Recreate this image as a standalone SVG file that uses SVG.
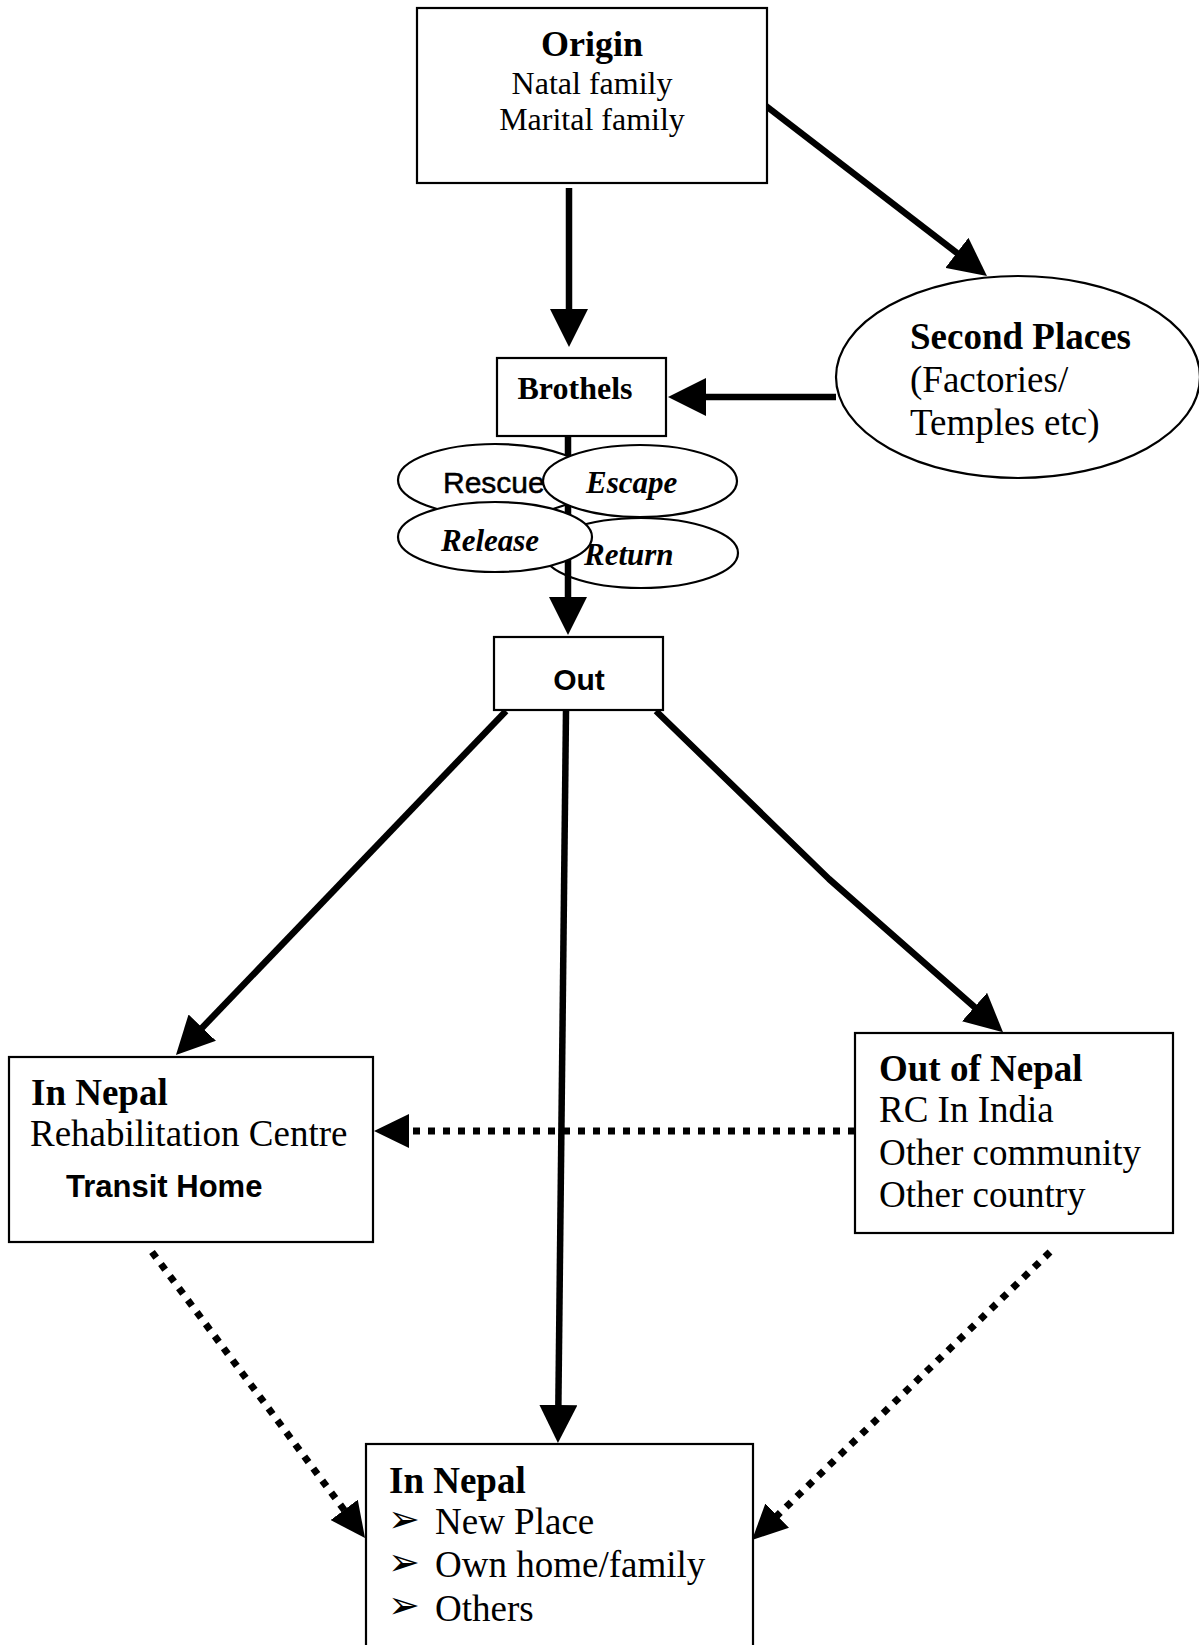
<svg xmlns="http://www.w3.org/2000/svg" width="1199" height="1645" viewBox="0 0 1199 1645">
<style>
.box{fill:#fff;stroke:#000;stroke-width:2.2}
.ell{fill:#fff;stroke:#000;stroke-width:2.2}
.serif{font-family:"Liberation Serif","Times New Roman",serif;fill:#000}
.sans{font-family:"Liberation Sans",Arial,sans-serif;fill:#000}
.b{font-weight:bold}
.bi{font-weight:bold;font-style:italic}
.big{font-size:37px}
.mid{font-size:32px}
.solid{fill:none;stroke:#000;stroke-width:6.5;stroke-linecap:butt;stroke-linejoin:round}
.dot{fill:none;stroke:#000;stroke-width:7;stroke-dasharray:7 8;stroke-linecap:butt}
.bul{font-family:"DejaVu Sans",sans-serif;font-size:38px;fill:#000}
</style>
<defs>
<marker id="ah" viewBox="0 0 38 38" refX="6" refY="19" markerWidth="38" markerHeight="38" markerUnits="userSpaceOnUse" orient="auto">
<path d="M0,0 L38,19 L0,38 Z" fill="#000"/>
</marker>
<marker id="ahd" viewBox="0 0 35 34" refX="5" refY="17" markerWidth="35" markerHeight="34" markerUnits="userSpaceOnUse" orient="auto">
<path d="M0,0 L35,17 L0,34 Z" fill="#000"/>
</marker>
</defs>
<rect width="1199" height="1645" fill="#fff"/>

<g id="node-return">
<ellipse class="ell" cx="641" cy="553" rx="97" ry="35"/>
<text class="serif bi" x="584" y="565" font-size="31">Return</text>
</g>

<g id="connectors">
<line class="solid" x1="569" y1="188" x2="569" y2="315" marker-end="url(#ah)"/>
<line class="solid" x1="766" y1="106" x2="961.6" y2="256.5" marker-end="url(#ah)"/>
<line class="solid" x1="836" y1="397" x2="700" y2="397" marker-end="url(#ah)"/>
<line class="solid" x1="568" y1="436" x2="568" y2="603" marker-end="url(#ah)"/>
<line class="solid" x1="506" y1="711" x2="198.1" y2="1032" marker-end="url(#ah)"/>
<line class="solid" x1="566" y1="711" x2="558.3" y2="1411" marker-end="url(#ah)"/>
<polyline class="solid" points="656,711 829,879 979,1011" marker-end="url(#ah)"/>
<line class="dot" x1="855" y1="1131" x2="404" y2="1131" marker-end="url(#ahd)"/>
<line class="dot" x1="152" y1="1252" x2="347.1" y2="1513.9" marker-end="url(#ahd)"/>
<line class="dot" x1="1050" y1="1252" x2="773.6" y2="1519.1" marker-end="url(#ahd)"/>
</g>

<g id="node-origin">
<rect class="box" x="417" y="8" width="350" height="175"/>
<text class="serif b" x="592" y="56" font-size="36" text-anchor="middle">Origin</text>
<text class="serif mid" x="592" y="94" text-anchor="middle">Natal family</text>
<text class="serif mid" x="592" y="130" text-anchor="middle">Marital family</text>
</g>

<g id="node-second-places">
<ellipse class="ell" cx="1018" cy="377" rx="182" ry="101"/>
<text class="serif b big" x="910" y="349">Second Places</text>
<text class="serif big" x="910" y="392">(Factories/</text>
<text class="serif big" x="910" y="435">Temples etc)</text>
</g>

<g id="node-brothels">
<rect class="box" x="497" y="358" width="169" height="78"/>
<text class="serif b mid" x="575" y="399" text-anchor="middle">Brothels</text>
</g>

<g id="node-rescue">
<ellipse class="ell" cx="495" cy="480" rx="97" ry="36"/>
<text class="sans" x="443" y="493" font-size="30" stroke="#000" stroke-width="0.5">Rescue</text>
</g>

<g id="node-escape">
<ellipse class="ell" cx="640" cy="481" rx="97" ry="36"/>
<text class="serif bi" x="586" y="493" font-size="31">Escape</text>
</g>

<g id="node-release">
<ellipse class="ell" cx="495" cy="537" rx="97" ry="35"/>
<text class="serif bi" x="441" y="551" font-size="31">Release</text>
</g>

<g id="node-out">
<rect class="box" x="494" y="637" width="169" height="73"/>
<text class="sans b" x="579" y="690" font-size="30" text-anchor="middle">Out</text>
</g>

<g id="node-in-nepal-left">
<rect class="box" x="9" y="1057" width="364" height="185"/>
<text class="serif b big" x="31" y="1105">In Nepal</text>
<text class="serif big" x="30" y="1146">Rehabilitation Centre</text>
<text class="sans b" x="66" y="1197" font-size="31">Transit Home</text>
</g>

<g id="node-out-of-nepal">
<rect class="box" x="855" y="1033" width="318" height="200"/>
<text class="serif b big" x="879" y="1081">Out of Nepal</text>
<text class="serif big" x="879" y="1122">RC In India</text>
<text class="serif big" x="879" y="1165">Other community</text>
<text class="serif big" x="879" y="1207">Other country</text>
</g>

<g id="node-in-nepal-bottom">
<rect class="box" x="366" y="1444" width="387" height="240"/>
<text class="serif b big" x="389" y="1493">In Nepal</text>
<text class="bul" x="388" y="1532">➢</text>
<text class="serif big" x="435" y="1534">New Place</text>
<text class="bul" x="388" y="1575">➢</text>
<text class="serif big" x="435" y="1577">Own home/family</text>
<text class="bul" x="388" y="1618">➢</text>
<text class="serif big" x="435" y="1621">Others</text>
</g>
</svg>
